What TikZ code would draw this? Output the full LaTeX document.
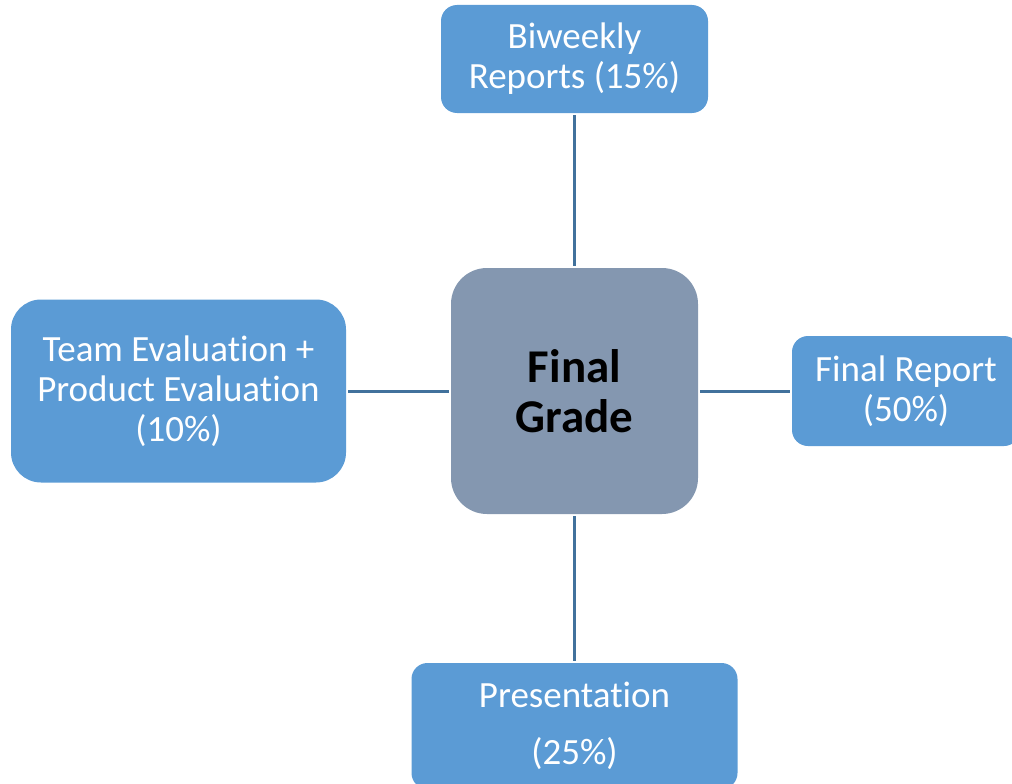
\documentclass[tikz,border=0pt]{standalone}
\usepackage{fontspec}
\setmainfont{Carlito}[Ligatures={NoCommon}]
\definecolor{boxblue}{HTML}{5B9BD5}
\definecolor{centergray}{HTML}{8497B0}
\definecolor{linkblue}{HTML}{41719C}
\begin{document}
\begin{tikzpicture}[x=1pt,y=-1pt,
  box/.style={rectangle, rounded corners=16pt, fill=boxblue, text=white,
    font=\fontsize{37}{40}\selectfont, align=center, inner sep=0pt},
  hub/.style={rectangle, rounded corners=36pt, fill=centergray, text=black,
    font=\fontsize{47}{50}\selectfont\bfseries, align=center, inner sep=0pt},
  link/.style={draw=linkblue, line width=3pt, shorten <=2pt, shorten >=2pt}]
\useasboundingbox (0,0) rectangle (1012,784);
\clip (0,0) rectangle (1012,784);
\node[hub, minimum width=247pt, minimum height=246pt] (c) at (574.5,391) {Final\\Grade};
\node[box, minimum width=267pt, minimum height=108pt] (t) at (574.5,59) {Biweekly\\Reports (15\%)};
\node[box, minimum width=335pt, minimum height=183pt, rounded corners=30pt] (l) at (178.5,391) {Team Evaluation +\\Product Evaluation\\(10\%)};
\node[box, minimum width=228pt, minimum height=110pt] (r) at (906,391) {Final Report\\(50\%)};
\node[box, minimum width=326pt, minimum height=126pt] (b) at (574.5,726) {Presentation\\[17pt](25\%)};
\draw[link] (t.south) -- (c.north);
\draw[link] (c.south) -- (b.north);
\draw[link] (l.east) -- (c.west);
\draw[link] (c.east) -- (r.west);
\end{tikzpicture}
\end{document}
